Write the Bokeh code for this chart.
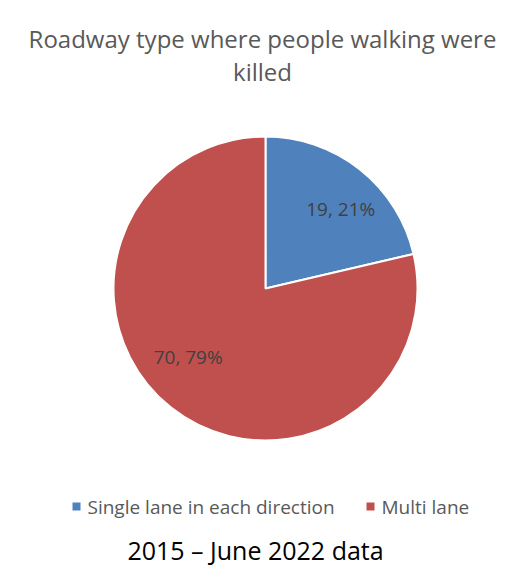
import math
from bokeh.plotting import figure
from bokeh.models import Range1d, Label, ColumnDataSource
from bokeh.embed import file_html
from bokeh.resources import INLINE

categories = ["Single lane in each direction", "Multi lane"]
counts = [19, 70]
colors = ["#4F81BD", "#C0504D"]

W, H = 515, 571
cx, cy, r = 265, H - 288, 152

total = sum(counts)
shares = [c / total for c in counts]

# angles run clockwise from 12 o'clock
starts, ends, mids = [], [], []
a = math.pi / 2
for s in shares:
    sweep = s * 2 * math.pi
    starts.append(a - sweep)
    ends.append(a)
    mids.append(a - sweep / 2)
    a -= sweep

src = ColumnDataSource(dict(start=starts, end=ends, color=colors))

p = figure(width=W, height=H, x_range=Range1d(0, W), y_range=Range1d(0, H),
           output_backend="svg", toolbar_location=None, min_border=0)
p.axis.visible = False
p.grid.visible = False
p.outline_line_color = None

p.wedge(x=cx, y=cy, radius=r, start_angle="start", end_angle="end",
        fill_color="color", line_color="white", line_width=2, source=src)

# data labels (excel-style placement, a bit off the slice middle)
fracs = [0.72, 0.68]
nudge = [-5, -10]
for c, s, m, f, n in zip(counts, shares, mids, fracs, nudge):
    ang = m + math.radians(n)
    p.add_layout(Label(x=cx + f * r * math.cos(ang), y=cy + f * r * math.sin(ang),
                       text=f"{c}, {round(s * 100)}%", text_align="center",
                       text_baseline="middle", text_font="Open Sans",
                       text_font_size="19px", text_color="#404040"))

# title
for i, line in enumerate(["Roadway type where people walking were", "killed"]):
    p.add_layout(Label(x=262, y=H - 38 - i * 33, text=line,
                       text_align="center", text_baseline="middle",
                       text_font="Open Sans", text_font_size="24px",
                       text_color="#595959"))

# legend
leg_x = [72, 366]
for name, col, lx in zip(categories, colors, leg_x):
    p.scatter(x=[lx + 4], y=[H - 506], marker="square", size=8,
              fill_color=col, line_color=None)
    p.add_layout(Label(x=lx + 15, y=H - 506, text=name, text_align="left",
                       text_baseline="middle", text_font="Open Sans",
                       text_font_size="19px", text_color="#595959"))

# footer
p.add_layout(Label(x=255, y=H - 549, text="2015 \u2013 June 2022 data",
                   text_align="center", text_baseline="middle",
                   text_font="Open Sans", text_font_size="25px",
                   text_color="#000000"))

open("out.html", "w").write(file_html(p, INLINE))
